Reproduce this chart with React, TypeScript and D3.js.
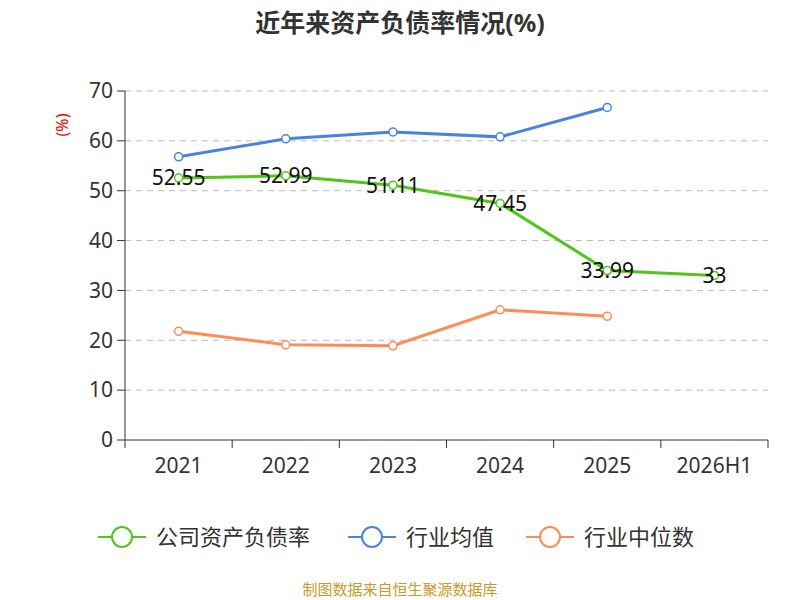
import React from "react";
import * as d3 from "d3";

const categories = ["2021", "2022", "2023", "2024", "2025", "2026H1"];
const companyRate = [52.55, 52.99, 51.11, 47.45, 33.99, 33];
const industryAvg = [56.8, 60.4, 61.8, 60.8, 66.7];
const industryMedian = [21.8, 19.1, 18.9, 26.1, 24.8];
const yTicks = [0, 10, 20, 30, 40, 50, 60, 70];

const W = 800;
const H = 600;
const margin = { top: 91, right: 32, bottom: 160, left: 125 };
const font = "'Noto Sans', 'Noto Sans CJK SC', sans-serif";

const series = [
  { name: "公司资产负债率", color: "#52c41a", values: companyRate },
  { name: "行业均值", color: "#4a83dd", values: industryAvg },
  { name: "行业中位数", color: "#ff8c55", values: industryMedian },
];

export default function App() {
  const x = d3
    .scaleBand<string>()
    .domain(categories)
    .range([margin.left, W - margin.right]);
  const y = d3
    .scaleLinear()
    .domain([0, 70])
    .range([H - margin.bottom, margin.top]);
  const cx = (i: number) => (x(categories[i]) || 0) + x.bandwidth() / 2;
  const line = d3
    .line<number>()
    .x((_, i) => cx(i))
    .y((d) => y(d));
  const bottom = H - margin.bottom;

  return (
    <svg width={W} height={H} style={{ position: "absolute", left: 0, top: 0 }} fontFamily={font}>
      <rect width={W} height={H} fill="#fff" />
      <text x={400} y={32} textAnchor="middle" fontSize={25} fontWeight="bold" fill="#333">
        近年来资产负债率情况(%)
      </text>
      <text
        transform={`translate(68,125) rotate(-90)`}
        textAnchor="middle"
        fontSize={16}
        fill="#e00"
      >
        (%)
      </text>
      {yTicks.map((t) => (
        <g key={t}>
          {t > 0 && (
            <line x1={margin.left} x2={W - margin.right} y1={y(t)} y2={y(t)} stroke="#bbb" strokeDasharray="6,5" />
          )}
          <line x1={margin.left - 8} x2={margin.left} y1={y(t)} y2={y(t)} stroke="#333" />
          <text x={margin.left - 12} y={y(t)} dy="0.35em" textAnchor="end" fontSize={21} fill="#333">
            {t}
          </text>
        </g>
      ))}
      <line x1={margin.left} x2={margin.left} y1={margin.top} y2={bottom} stroke="#333" />
      <line x1={margin.left} x2={W - margin.right} y1={bottom} y2={bottom} stroke="#333" />
      {categories.map((c, i) => (
        <g key={c}>
          <line x1={x(c)} x2={x(c)} y1={bottom} y2={bottom + 8} stroke="#333" />
          <text x={cx(i)} y={bottom + 33} textAnchor="middle" fontSize={21} fill="#333">
            {c}
          </text>
        </g>
      ))}
      <line x1={W - margin.right} x2={W - margin.right} y1={bottom} y2={bottom + 8} stroke="#333" />
      {series.map((s) => (
        <g key={s.name}>
          <path d={line(s.values) || ""} fill="none" stroke={s.color} strokeWidth={3} />
          {s.values.map((v, i) => (
            <circle key={i} cx={cx(i)} cy={y(v)} r={4} fill="#fff" stroke={s.color} strokeWidth={1.5} />
          ))}
        </g>
      ))}
      {companyRate.map((v, i) => (
        <text key={i} x={cx(i)} y={y(v)} dy="0.35em" textAnchor="middle" fontSize={21} fill="#111">
          {v}
        </text>
      ))}
      {series.map((s, i) => {
        const lx = [98, 348, 526][i];
        return (
          <g key={s.name} transform={`translate(${lx},537)`}>
            <line x1={0} x2={48} stroke={s.color} strokeWidth={2} />
            <circle cx={24} r={10} fill="#fff" stroke={s.color} strokeWidth={2} />
            <text x={58} dy="0.35em" fontSize={22} fill="#333">
              {s.name}
            </text>
          </g>
        );
      })}
      <text x={400} y={595} textAnchor="middle" fontSize={15} fill="#c89a2a">
        制图数据来自恒生聚源数据库
      </text>
    </svg>
  );
}
